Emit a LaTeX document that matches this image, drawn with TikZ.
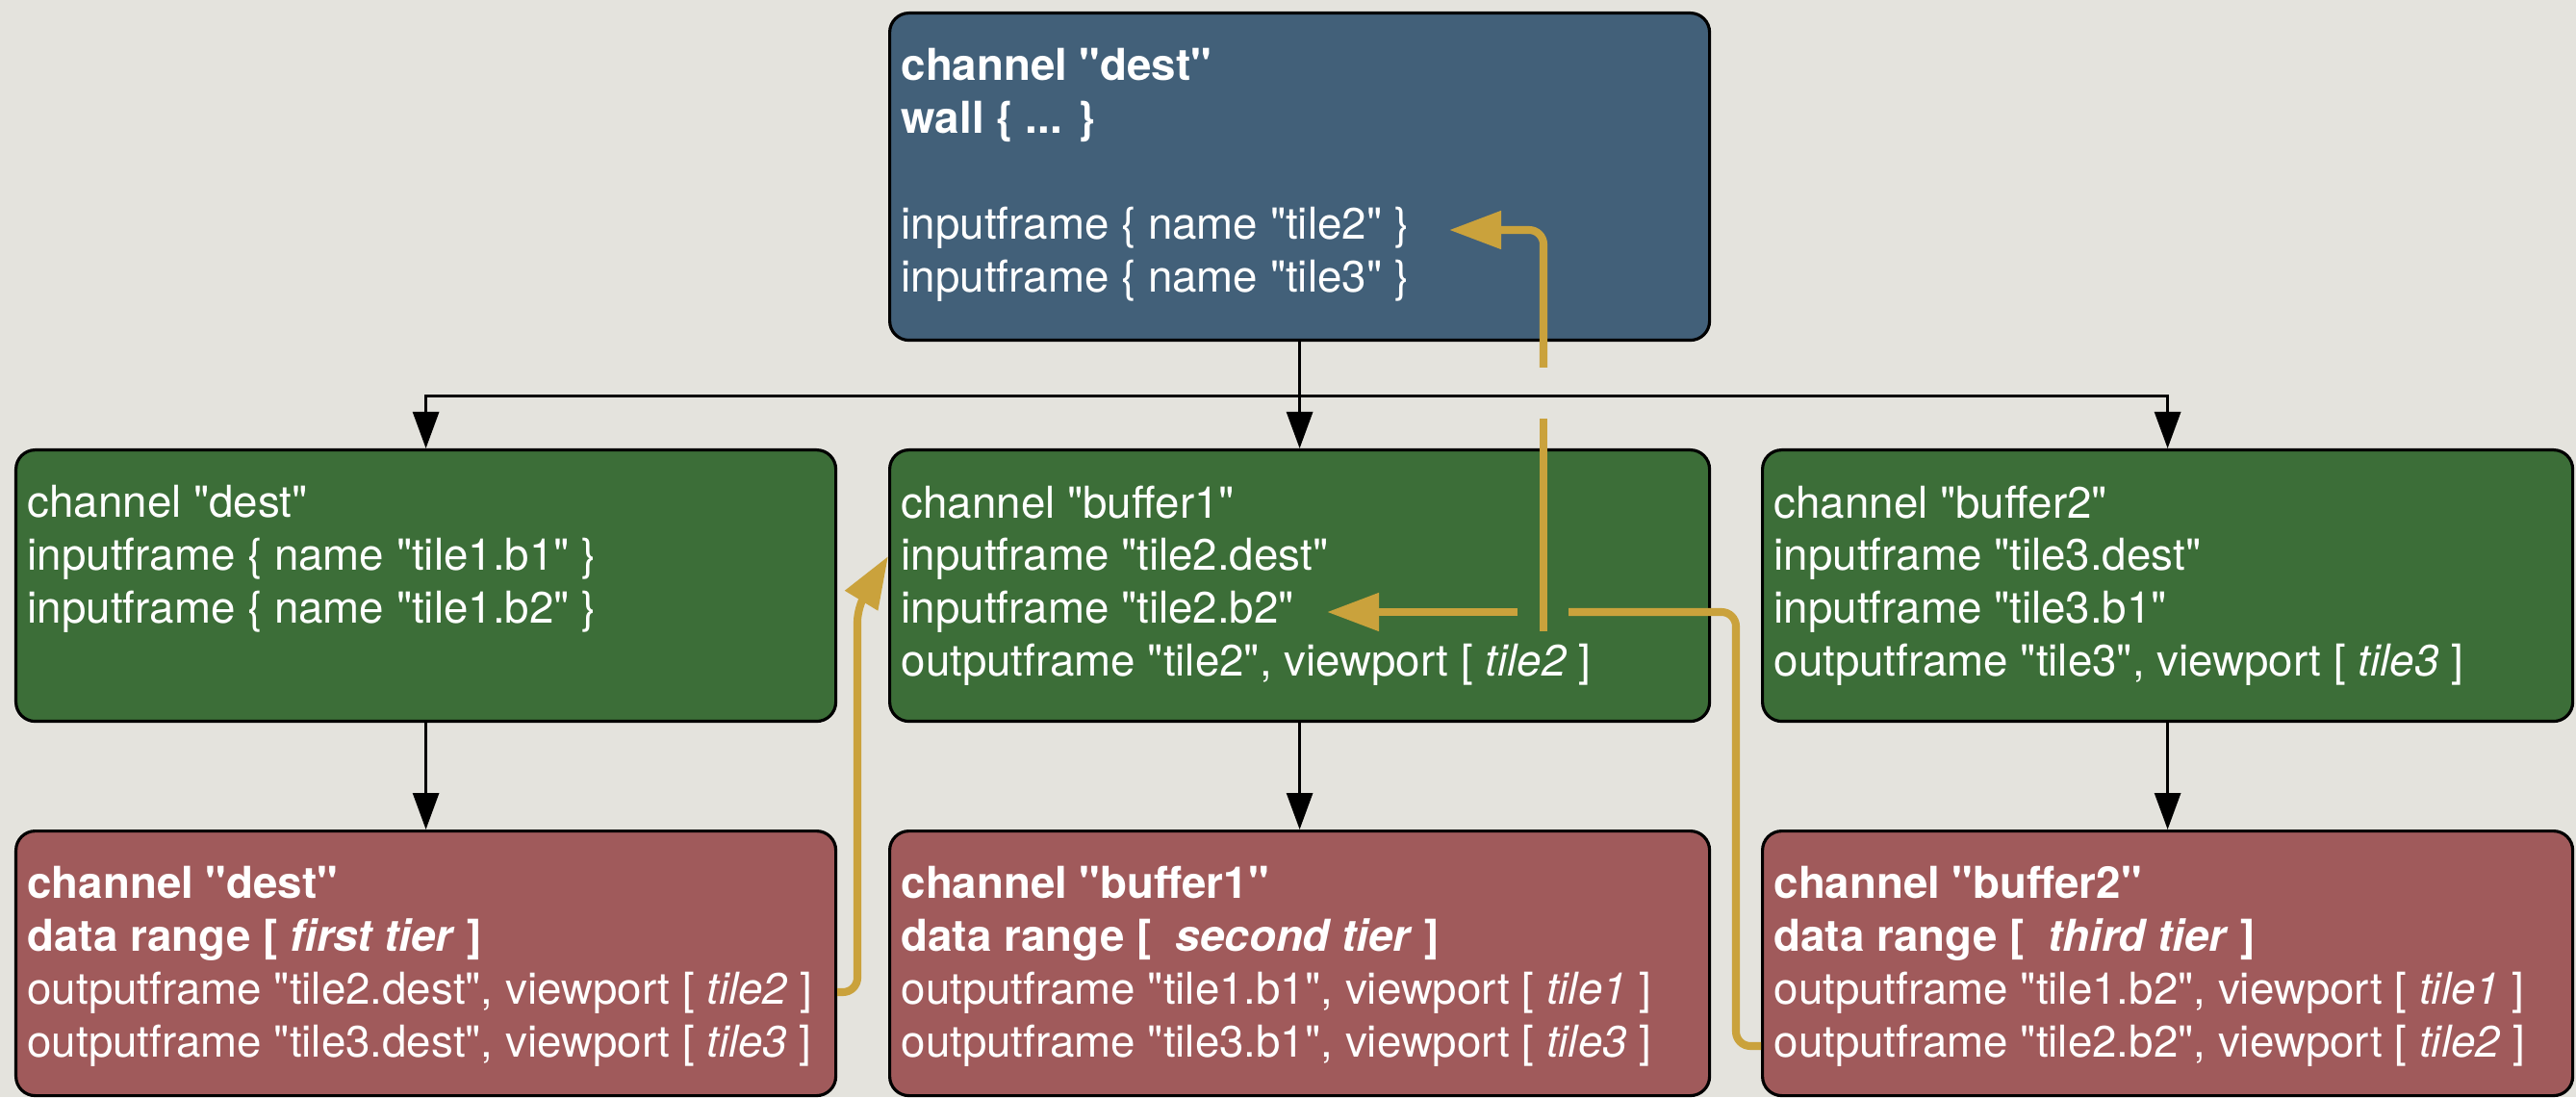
\documentclass[tikz,border=0pt]{standalone}
\usepackage{fontspec}
\setmainfont{TeX Gyre Heros}[Ligatures=TeXOff]
\usetikzlibrary{arrows.meta,calc}

\definecolor{paper}{RGB}{228,227,221}
\definecolor{wallblue}{RGB}{66,96,121}
\definecolor{bufgreen}{RGB}{60,110,56}
\definecolor{tierred}{RGB}{160,90,91}
\definecolor{flowgold}{RGB}{202,162,60}

% fixed-size box text, set from the top
\newcommand{\cfgtext}[3]{\parbox[c][#1][t]{#2}{\raggedright #3}}

\tikzset{
  cfgbox/.style={draw=black, line width=0.9pt, rounded corners=0.2cm, anchor=north west,
    inner xsep=0.12cm, inner ysep=0.37cm, text=white, font=\fontsize{13pt}{15.6pt}\selectfont},
  wallbox/.style={cfgbox, fill=wallblue},
  bufbox/.style={cfgbox, fill=bufgreen},
  tierbox/.style={cfgbox, fill=tierred},
  tree/.style={line width=0.85pt, -{Triangle[length=0.38cm, width=0.27cm]}},
  flow/.style={flowgold, line width=2.3pt, rounded corners=0.15cm},
  flowarrow/.style={flow, -{Triangle[length=0.54cm, width=0.38cm]}}
}

\begin{document}
\begin{tikzpicture}
    \useasboundingbox (0,0) rectangle (26.77,11.40);
    \fill[paper] (0,0) rectangle (26.77,11.40);
    % Wall
    \node[wallbox] (b) at (9.23,11.28) {\cfgtext{2.66cm}{8.28cm}{%
        \textbf{channel "dest"}\\
        \textbf{wall \{ ... \}}\\[15.6pt]
        inputframe \{ name "tile2" \}\\
        inputframe \{ name "tile3" \}}};
    % Buffers
    \node[bufbox] (g1) at (0.15,6.74) {\cfgtext{2.08cm}{8.28cm}{%
        channel "dest"\\
        inputframe \{ name "tile1.b1" \}\\
        inputframe \{ name "tile1.b2" \}}};
    \node[bufbox] (g2) at (9.23,6.74) {\cfgtext{2.08cm}{8.28cm}{%
        channel "buffer1"\\
        inputframe "tile2.dest"\\
        inputframe "tile2.b2"\\
        outputframe "tile2", viewport [ \textit{tile2} ]}};
    \node[bufbox] (g3) at (18.30,6.74) {\cfgtext{2.08cm}{8.18cm}{%
        channel "buffer2"\\
        inputframe "tile3.dest"\\
        inputframe "tile3.b1"\\
        outputframe "tile3", viewport [ \textit{tile3} ]}};
    % Tiers
    \node[tierbox] (r1) at (0.15,2.78) {\cfgtext{2.01cm}{8.28cm}{%
        \textbf{channel "dest"}\\
        \textbf{data range [ \textit{first tier} ]}\\
        outputframe "tile2.dest", viewport [ \textit{tile2} ]\\
        outputframe "tile3.dest", viewport [ \textit{tile3} ]}};
    \node[tierbox] (r2) at (9.23,2.78) {\cfgtext{2.01cm}{8.28cm}{%
        \textbf{channel "buffer1"}\\
        \textbf{data range [\ \ \textit{second tier} ]}\\
        outputframe "tile1.b1", viewport [ \textit{tile1} ]\\
        outputframe "tile3.b1", viewport [ \textit{tile3} ]}};
    \node[tierbox] (r3) at (18.30,2.78) {\cfgtext{2.01cm}{8.18cm}{%
        \textbf{channel "buffer2"}\\
        \textbf{data range [\ \ \textit{third tier} ]}\\
        outputframe "tile1.b2", viewport [ \textit{tile1} ]\\
        outputframe "tile2.b2", viewport [ \textit{tile2} ]}};
    % Tree
    \coordinate (bus) at ($(b.south)+(0,-0.56)$);
    \draw[line width=0.85pt] (b.south) -- (bus);
    \draw[tree] (bus) -| (g1.north);
    \draw[tree] (bus) -- (g2.north);
    \draw[tree] (bus) -| (g3.north);
    \draw[tree] (g1.south) -- (r1.north);
    \draw[tree] (g2.south) -- (r2.north);
    \draw[tree] (g3.south) -- (r3.north);
    % Frames
    \coordinate (a1) at ($(r1.north east)+(0,-1.69)$);
    \coordinate (a2) at ($(g2.north west)+(0,-1.12)$);
    \draw[flowarrow] (a1) -| ($(a2)+(-0.32,-0.53)$) -- (a2);
    \coordinate (f1) at ($(r3.north west)+(0,-2.25)$);
    \coordinate (f2) at ($(g2.north west)+(7.07,-1.70)$);
    \coordinate (f3) at ($(g2.north west)+(6.54,-1.70)$);
    \coordinate (f4) at ($(g2.north west)+(4.56,-1.70)$);
    \draw[flow] (f1) -- ++(-0.26,0) |- (f2);
    \draw[flowarrow] (f3) -- (f4);
    \coordinate (c1) at ($(g2.north west)+(6.81,-1.90)$);
    \coordinate (c2) at ($(g2.north west)+(6.81,0.31)$);
    \coordinate (c3) at ($(g2.north west)+(6.81,0.84)$);
    \coordinate (c4) at ($(b.north west)+(5.83,-2.27)$);
    \draw[flow] (c1) -- (c2);
    \draw[flowarrow] (c3) |- (c4);
\end{tikzpicture}
\end{document}
